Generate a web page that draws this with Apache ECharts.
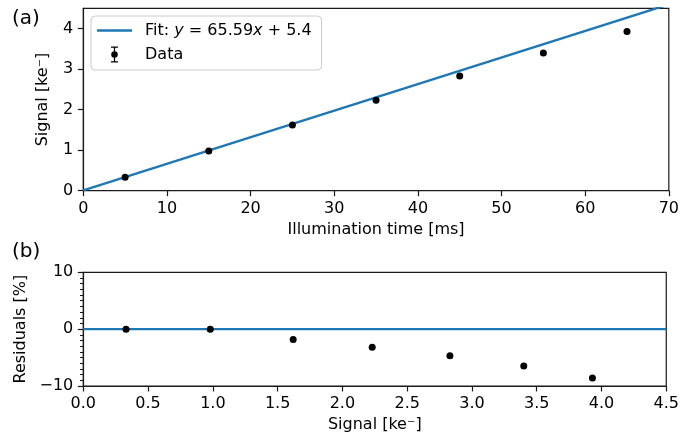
<!DOCTYPE html>
<html>
<head>
<meta charset="utf-8">
<script src="https://cdn.jsdelivr.net/npm/echarts@6/dist/echarts.min.js"></script>
<style>
  html, body { margin: 0; padding: 0; background: #fff; }
  #chart { width: 682px; height: 440px; }
</style>
</head>
<body>
<div id="chart"></div>
<script>
// Illumination time [ms] and measured signal [ke-]
const illuminationTimes = [5, 15, 25, 35, 45, 55, 65];
const signalValues = [0.33, 0.98, 1.62, 2.23, 2.83, 3.40, 3.93];

// Residuals [%] of each point against the linear fit
const residualValues = [0.0, 0.0, -1.8, -3.2, -4.7, -6.5, -8.6];

// Linear fit in e- per ms: y = slope * x + intercept
const fitSlope = 65.59;
const fitIntercept = 5.4;

// Axis ranges and ticks
const timeAxis = { min: 0, max: 70, interval: 10 };
const signalAxis = { min: 0, max: 4.5, interval: 1 };
const residualSignalAxis = { min: 0, max: 4.5, interval: 0.5 };
const residualAxis = { min: -10, max: 10, interval: 10 };

const FONT = 'DejaVu Sans';
const BLUE = '#1f77b4';
const SPINE = '#1a1a1a';

const fitValue = x => (fitSlope * x + fitIntercept) / 1000;
const fitLine = [timeAxis.min, timeAxis.max].map(x => [x, fitValue(x)]);
const dataPoints = illuminationTimes.map((t, i) => [t, signalValues[i]]);
const residualPoints = signalValues.map((s, i) => [s, residualValues[i]]);
const zeroLine = [[residualSignalAxis.min, 0], [residualSignalAxis.max, 0]];

const minus = v => String(v).replace('-', '\u2212');

function axisBase(extra) {
  return Object.assign({
    type: 'value',
    axisLine: { show: true, onZero: false, lineStyle: { color: SPINE, width: 1.2 } },
    axisTick: { show: true, inside: false, length: 5.5, lineStyle: { color: SPINE, width: 1.2 } },
    axisLabel: { fontFamily: FONT, fontSize: 16, color: '#000', margin: 10 },
    splitLine: { show: false },
    nameLocation: 'middle',
    nameTextStyle: { fontFamily: FONT, fontSize: 16, color: '#000' }
  }, extra);
}

const chart = echarts.init(document.getElementById('chart'), null, { renderer: 'canvas' });

chart.setOption({
  animation: false,
  backgroundColor: '#fff',
  grid: [
    { left: 83.3, right: 11.3, top: 8.3, height: 182.4, show: true, borderColor: SPINE, borderWidth: 1.2, backgroundColor: 'transparent' },
    { left: 83.3, right: 11.3, top: 272.3, height: 113.7, show: true, borderColor: SPINE, borderWidth: 1.2, backgroundColor: 'transparent' }
  ],
  xAxis: [
    axisBase({
      gridIndex: 0, min: timeAxis.min, max: timeAxis.max, interval: timeAxis.interval,
      name: 'Illumination time [ms]', nameGap: 31
    }),
    axisBase({
      gridIndex: 1, min: residualSignalAxis.min, max: residualSignalAxis.max, interval: residualSignalAxis.interval,
      name: 'Signal [ke\u207B]', nameGap: 31,
      axisLabel: { fontFamily: FONT, fontSize: 16, color: '#000', margin: 10, formatter: v => v.toFixed(1) }
    })
  ],
  yAxis: [
    axisBase({
      gridIndex: 0, min: signalAxis.min, max: signalAxis.max, interval: signalAxis.interval,
      name: 'Signal [ke\u207B]', nameGap: 32,
      axisLabel: { fontFamily: FONT, fontSize: 16, color: '#000', margin: 10, showMaxLabel: false }
    }),
    axisBase({
      gridIndex: 1, min: residualAxis.min, max: residualAxis.max, interval: residualAxis.interval,
      name: 'Residuals [%]', nameGap: 44,
      axisLabel: { fontFamily: FONT, fontSize: 16, color: '#000', margin: 10, formatter: minus },
      minorTick: { show: true, splitNumber: 10, length: 3.3, lineStyle: { color: SPINE, width: 1 } }
    })
  ],
  legend: {
    orient: 'vertical',
    left: 91,
    top: 16,
    padding: [6.5, 10, 7.5, 6],
    itemGap: 8,
    itemWidth: 35,
    itemHeight: 16,
    backgroundColor: 'rgba(255,255,255,0.8)',
    borderColor: '#cccccc',
    borderWidth: 1,
    borderRadius: 4,
    data: [
      { name: 'Fit', icon: 'path://M0,0H35V2.4H0Z', itemStyle: { color: BLUE, opacity: 1 } },
      { name: 'Data', icon: 'path://M-3.5,-8H3.5V-6.8H0.65V-3.2H-0.65V-6.8H-3.5ZM-3.5,8H3.5V6.8H0.65V3.2H-0.65V6.8H-3.5ZM-3.3,0A3.3,3.3 0 1,1 3.3,0A3.3,3.3 0 1,1 -3.3,0Z', itemStyle: { color: '#000', opacity: 1 } }
    ],
    formatter: name => name === 'Fit'
      ? 'Fit: {i|y} = ' + fitSlope + '{i|x} + ' + fitIntercept
      : name,
    textStyle: {
      fontFamily: FONT, fontSize: 16, color: '#000', padding: [0, 0, 0, 8],
      rich: { i: { fontFamily: FONT, fontStyle: 'italic', fontSize: 16, color: '#000' } }
    }
  },
  graphic: [
    { type: 'text', left: 12, top: 9, style: { text: '(a)', fontFamily: FONT, fontSize: 20, fill: '#000' } },
    { type: 'text', left: 12, top: 242, style: { text: '(b)', fontFamily: FONT, fontSize: 20, fill: '#000' } }
  ],
  series: [
    {
      name: 'Fit', type: 'line', xAxisIndex: 0, yAxisIndex: 0,
      data: fitLine, showSymbol: false, clip: true, z: 2,
      lineStyle: { color: BLUE, width: 2.4 }, itemStyle: { color: BLUE }
    },
    {
      name: 'Data', type: 'scatter', xAxisIndex: 0, yAxisIndex: 0,
      data: dataPoints, symbol: 'circle', symbolSize: 7, z: 3,
      itemStyle: { color: '#000', opacity: 1 }
    },
    {
      name: 'Zero', type: 'line', xAxisIndex: 1, yAxisIndex: 1,
      data: zeroLine, showSymbol: false, clip: true, z: 2,
      lineStyle: { color: BLUE, width: 2.4 }, itemStyle: { color: BLUE }
    },
    {
      name: 'Residuals', type: 'scatter', xAxisIndex: 1, yAxisIndex: 1,
      data: residualPoints, symbol: 'circle', symbolSize: 7, z: 3,
      itemStyle: { color: '#000', opacity: 1 }
    }
  ]
});
</script>
</body>
</html>
